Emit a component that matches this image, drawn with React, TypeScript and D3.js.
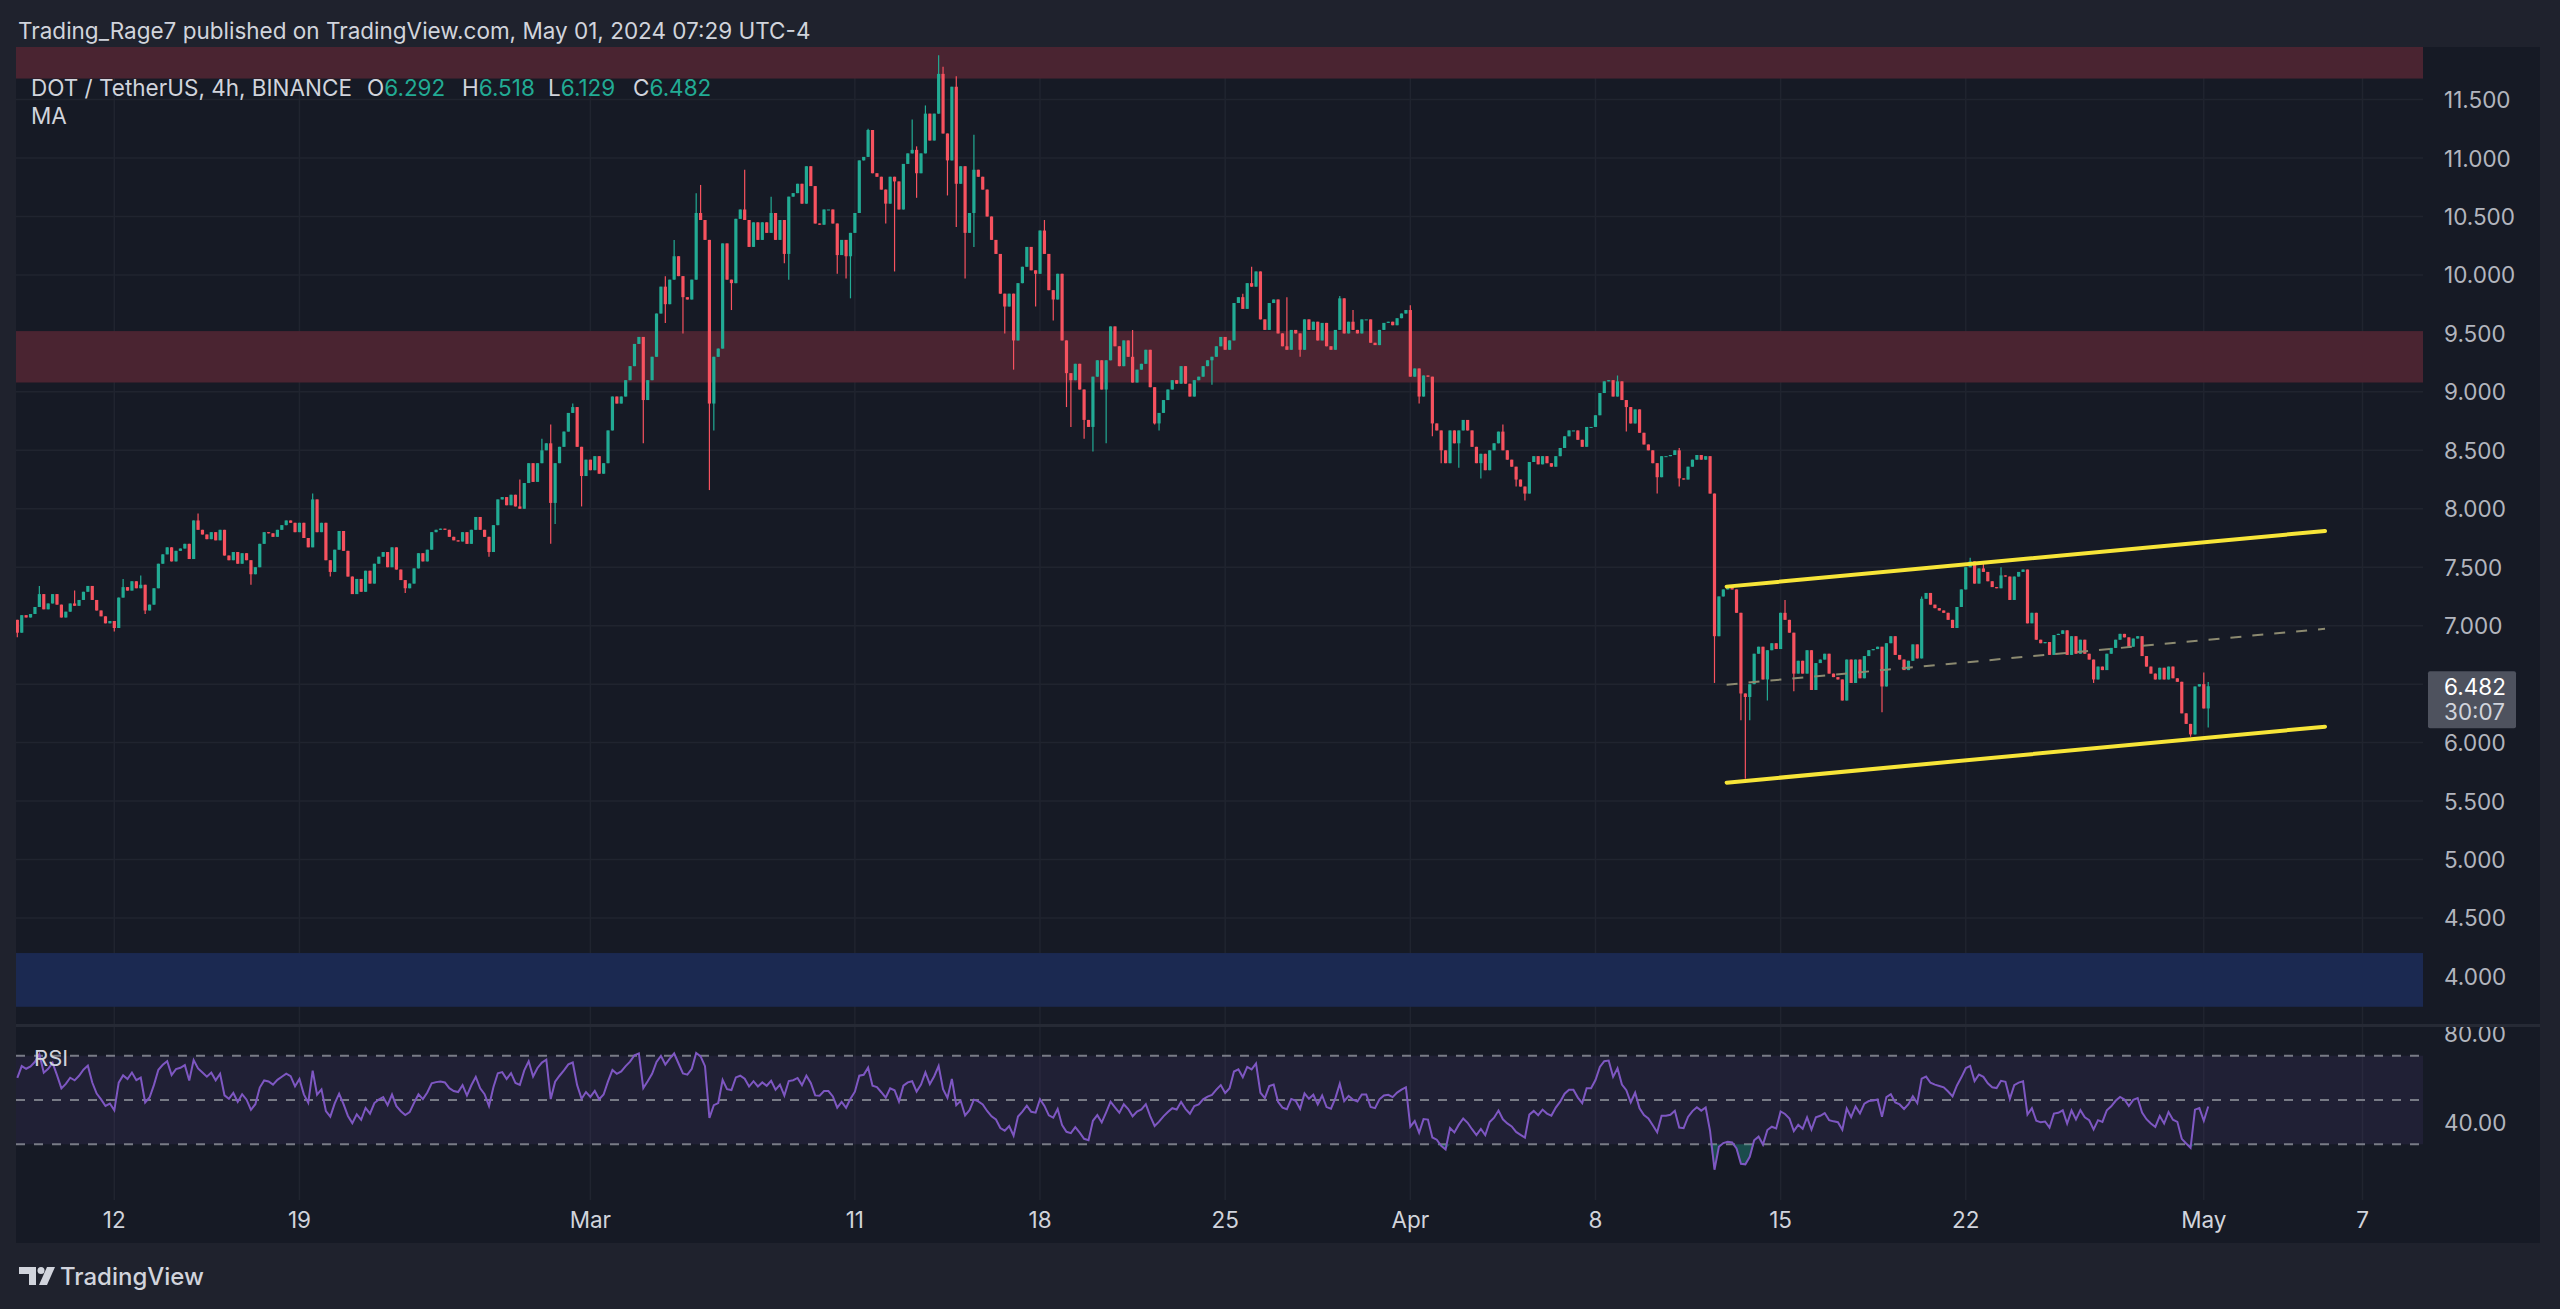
import { useEffect, useRef } from 'react';
import * as d3 from 'd3';

const W = 2560;
const H = 1309;

// 4h closes from Feb 8 08:00 to May 1 04:00 (UTC-4)
const closes: number[] = [
  6.94, 7.09, 7.07, 7.10, 7.16, 7.27, 7.14, 7.19, 7.27, 7.18, 7.07, 7.12, 7.19, 7.17, 7.22, 7.29, 7.34, 7.22, 7.13, 7.08,
  7.02, 7.04, 6.98, 7.24, 7.33, 7.30, 7.38, 7.32, 7.35, 7.13, 7.18, 7.32, 7.53, 7.61, 7.67, 7.55, 7.64, 7.66, 7.70, 7.57,
  7.90, 7.82, 7.78, 7.74, 7.80, 7.73, 7.82, 7.60, 7.56, 7.63, 7.53, 7.62, 7.56, 7.44, 7.50, 7.70, 7.80, 7.79, 7.76, 7.82,
  7.86, 7.90, 7.88, 7.80, 7.88, 7.75, 7.67, 8.08, 7.80, 7.88, 7.56, 7.46, 7.65, 7.81, 7.64, 7.42, 7.27, 7.40, 7.29, 7.47,
  7.36, 7.53, 7.59, 7.63, 7.50, 7.67, 7.48, 7.39, 7.32, 7.36, 7.49, 7.62, 7.55, 7.65, 7.80, 7.82, 7.83, 7.82, 7.76, 7.73,
  7.72, 7.80, 7.70, 7.82, 7.93, 7.82, 7.76, 7.63, 7.86, 8.08, 8.10, 8.03, 8.12, 8.02, 8.00, 8.22, 8.39, 8.23, 8.39, 8.50,
  8.56, 8.05, 8.39, 8.53, 8.66, 8.82, 8.87, 8.53, 8.28, 8.42, 8.33, 8.45, 8.30, 8.39, 8.67, 8.96, 8.90, 8.96, 9.10, 9.22,
  9.41, 9.47, 8.93, 9.10, 9.30, 9.67, 9.90, 9.75, 9.96, 10.16, 9.99, 9.81, 9.79, 9.96, 10.53, 10.47, 10.30, 8.90, 9.30, 9.37,
  10.27, 9.96, 9.93, 10.48, 10.56, 10.47, 10.24, 10.45, 10.30, 10.45, 10.36, 10.53, 10.30, 10.47, 10.18, 10.67, 10.70, 10.78, 10.61, 10.93,
  10.76, 10.44, 10.43, 10.56, 10.56, 10.44, 10.17, 10.30, 10.16, 10.36, 10.53, 10.98, 11.01, 11.24, 10.87, 10.84, 10.73, 10.61, 10.84, 10.80,
  10.56, 10.95, 11.04, 11.07, 10.87, 11.04, 11.38, 11.15, 11.38, 11.72, 11.21, 10.98, 11.61, 10.78, 10.93, 10.36, 10.53, 10.90, 10.84, 10.73,
  10.50, 10.30, 10.18, 9.84, 9.73, 9.84, 9.44, 9.93, 10.07, 10.24, 10.04, 10.01, 10.38, 10.18, 9.87, 9.79, 10.01, 9.44, 9.16, 9.10,
  9.24, 9.02, 8.76, 8.70, 9.13, 9.27, 9.02, 9.27, 9.56, 9.39, 9.22, 9.44, 9.30, 9.08, 9.19, 9.24, 9.36, 9.04, 8.73, 8.82,
  8.93, 9.02, 9.10, 9.07, 9.22, 9.07, 8.96, 9.10, 9.13, 9.22, 9.27, 9.30, 9.39, 9.47, 9.36, 9.44, 9.76, 9.81, 9.71, 9.93,
  9.90, 10.03, 9.62, 9.53, 9.76, 9.79, 9.50, 9.39, 9.36, 9.53, 9.50, 9.36, 9.62, 9.53, 9.60, 9.44, 9.59, 9.39, 9.36, 9.53,
  9.80, 9.50, 9.60, 9.53, 9.50, 9.62, 9.62, 9.42, 9.40, 9.53, 9.59, 9.60, 9.57, 9.63, 9.67, 9.70, 9.13, 9.20, 8.96, 9.14,
  9.13, 8.73, 8.67, 8.50, 8.39, 8.67, 8.56, 8.67, 8.76, 8.67, 8.53, 8.39, 8.47, 8.33, 8.50, 8.56, 8.66, 8.50, 8.42, 8.36,
  8.25, 8.19, 8.13, 8.40, 8.45, 8.38, 8.45, 8.39, 8.36, 8.45, 8.52, 8.62, 8.67, 8.67, 8.59, 8.53, 8.70, 8.70, 8.80, 8.99,
  9.09, 9.10, 8.96, 9.09, 8.93, 8.87, 8.73, 8.85, 8.65, 8.55, 8.50, 8.39, 8.27, 8.45, 8.45, 8.46, 8.50, 8.26, 8.25, 8.36,
  8.42, 8.46, 8.42, 8.45, 8.13, 6.91, 7.25, 7.31, 7.33, 7.31, 7.11, 6.42, 6.39, 6.50, 6.76, 6.82, 6.54, 6.79, 6.85, 6.80,
  7.11, 7.05, 6.94, 6.59, 6.70, 6.59, 6.79, 6.45, 6.68, 6.71, 6.76, 6.59, 6.56, 6.54, 6.36, 6.71, 6.51, 6.71, 6.55, 6.74,
  6.79, 6.80, 6.82, 6.48, 6.85, 6.91, 6.75, 6.71, 6.62, 6.70, 6.84, 6.72, 7.23, 7.28, 7.18, 7.15, 7.13, 7.11, 7.05, 6.98,
  7.16, 7.31, 7.50, 7.55, 7.36, 7.49, 7.46, 7.38, 7.33, 7.32, 7.43, 7.42, 7.22, 7.42, 7.46, 7.48, 7.02, 7.11, 6.88, 6.85,
  6.86, 6.75, 6.92, 6.93, 6.96, 6.75, 6.91, 6.76, 6.88, 6.76, 6.71, 6.54, 6.65, 6.62, 6.76, 6.81, 6.88, 6.93, 6.90, 6.82,
  6.89, 6.91, 6.74, 6.65, 6.59, 6.54, 6.64, 6.54, 6.65, 6.55, 6.52, 6.25, 6.16, 6.07, 6.48, 6.50, 6.292, 6.482,
];
const firstOpen = 7.05;

// visible wick extremes [candle index, price]
const highWicks: [number, number][] = [
  [5, 7.34], [13, 7.3], [24, 7.4], [28, 7.43], [41, 7.96], [67, 8.13], [114, 8.25], [119, 8.6], [121, 8.72],
  [126, 8.9], [147, 9.99], [149, 10.3], [154, 10.7], [155, 10.77], [165, 10.9], [171, 10.67], [193, 11.25],
  [203, 11.33], [204, 11.1], [206, 11.45], [209, 11.88], [210, 11.78], [213, 11.7], [217, 11.2], [233, 10.47],
  [253, 9.53], [278, 9.84], [280, 10.07], [288, 9.81], [300, 9.82], [303, 9.7], [316, 9.74], [337, 8.72],
  [363, 9.14], [377, 8.52], [401, 7.22], [432, 7.25], [443, 7.58], [446, 7.55], [450, 7.5], [496, 6.6], [497, 6.518],
];
const lowWicks: [number, number][] = [
  [0, 6.9], [22, 6.95], [29, 7.1], [53, 7.35], [71, 7.42], [88, 7.28], [107, 7.59], [121, 7.7], [122, 7.87],
  [128, 8.02], [142, 8.56], [147, 9.59], [151, 9.5], [157, 8.16], [158, 8.67], [162, 9.7], [174, 10.1], [175, 9.96],
  [186, 10.01], [188, 9.97], [189, 9.8], [197, 10.44], [199, 10.03], [204, 10.66], [211, 10.68], [213, 10.41],
  [215, 9.97], [217, 10.24], [224, 9.5], [226, 9.19], [231, 9.73], [235, 9.61], [238, 8.87], [239, 8.7], [242, 8.6],
  [244, 8.49], [247, 8.56], [258, 8.72], [259, 8.67], [271, 9.06], [291, 9.3], [318, 8.9], [321, 8.62], [323, 8.39],
  [327, 8.35], [332, 8.26], [340, 8.19], [342, 8.07], [365, 8.66], [372, 8.13], [377, 8.19], [385, 6.51], [391, 6.19],
  [392, 5.69], [393, 6.19], [397, 6.36], [403, 6.44], [423, 6.26], [471, 6.51], [493, 6.05], [497, 6.129],
];

const priceTicks = [11.5, 11, 10.5, 10, 9.5, 9, 8.5, 8, 7.5, 7, 6.5, 6, 5.5, 5, 4.5, 4];
const dateLabels = ['12', '19', 'Mar', '11', '18', '25', 'Apr', '8', '15', '22', 'May', '7'];
const dateDays = ['2024-02-12', '2024-02-19', '2024-03-01', '2024-03-11', '2024-03-18', '2024-03-25',
  '2024-04-01', '2024-04-08', '2024-04-15', '2024-04-22', '2024-05-01', '2024-05-07'];

const supplyZones: [number, number][] = [[11.68, 11.95], [9.08, 9.52]];
const demandZone: [number, number] = [3.74, 4.2];
const channelTimes = ['2024-04-12T23:00:00Z', '2024-05-05T14:00:00Z'];
const channelUpper = [7.334, 7.81];
const channelLower = [5.657, 6.136];

const rsiLevels = [70, 50, 30];
const rsiTicks = [80, 40];
// average gain / loss carried in from before the first visible candle
const rsiSeed = { gain: 0.045, loss: 0.03 };
const lastPrice = 6.482;

const App = () => {
  const svgRef = useRef<SVGSVGElement>(null);

  useEffect(() => {
    const svg = d3.select(svgRef.current);
    svg.selectAll('*').remove();
    const font = 'Inter, "Noto Sans", sans-serif';

    const left = 16, right = 2423;
    const paneTop = 47, paneBottom = 1024;
    const rsiTop = 1027, rsiBottom = 1200;

    const x = d3.scaleUtc()
      .domain([new Date('2024-02-12T00:00:00Z'), new Date('2024-05-07T00:00:00Z')])
      .range([114.3, 2362.5]);
    const y = d3.scaleLinear().domain([4, 11.5]).range([976.4, 99.6]);
    const yr = d3.scaleLinear().domain([30, 70]).range([1144.3, 1055.7]);

    const t0 = Date.UTC(2024, 1, 8, 8);
    const step = 4 * 3600 * 1000;
    const hiMap = new Map(highWicks);
    const loMap = new Map(lowWicks);
    const candles = closes.map((c, i) => {
      const o = i === 0 ? firstOpen : closes[i - 1];
      return {
        t: new Date(t0 + i * step), o, c,
        h: Math.max(o, c, hiMap.get(i) ?? -Infinity),
        l: Math.min(o, c, loMap.get(i) ?? Infinity),
      };
    });

    // RSI 14 (Wilder) on the closes
    const rsi: { t: Date; v: number }[] = [];
    let ag = rsiSeed.gain, al = rsiSeed.loss;
    candles.forEach((d, i) => {
      const ch = d.c - d.o;
      if (i > 0) {
        ag = (ag * 13 + Math.max(ch, 0)) / 14;
        al = (al * 13 + Math.max(-ch, 0)) / 14;
      }
      rsi.push({ t: d.t, v: 100 - 100 / (1 + ag / al) });
    });

    const defs = svg.append('defs');
    defs.append('clipPath').attr('id', 'pane').append('rect')
      .attr('x', left).attr('y', paneTop).attr('width', right - left).attr('height', paneBottom - paneTop);
    defs.append('clipPath').attr('id', 'rsipane').append('rect')
      .attr('x', left).attr('y', rsiTop).attr('width', 2540 - left).attr('height', rsiBottom - rsiTop);

    // backgrounds
    svg.append('rect').attr('width', W).attr('height', H).attr('fill', '#1f222d');
    svg.append('rect').attr('x', left).attr('y', paneTop).attr('width', 2540 - left).attr('height', 1243 - paneTop)
      .attr('fill', '#161a25');

    // grid
    svg.append('g').selectAll('line').data(priceTicks).enter().append('line')
      .attr('x1', left).attr('x2', right).attr('y1', d => y(d)).attr('y2', d => y(d))
      .attr('stroke', '#20242f').attr('stroke-width', 1.5);
    svg.append('g').selectAll('line').data(dateDays).enter().append('line')
      .attr('x1', d => x(new Date(d + 'T00:00:00Z'))).attr('x2', d => x(new Date(d + 'T00:00:00Z')))
      .attr('y1', paneTop).attr('y2', rsiBottom)
      .attr('stroke', '#20242f').attr('stroke-width', 1.5);

    const pane = svg.append('g').attr('clip-path', 'url(#pane)');

    // zones
    pane.selectAll('.supply').data(supplyZones).enter().append('rect')
      .attr('x', left).attr('width', right - left)
      .attr('y', d => y(d[1])).attr('height', d => y(d[0]) - y(d[1]))
      .attr('fill', '#4a2431');
    pane.append('rect')
      .attr('x', left).attr('width', right - left)
      .attr('y', y(demandZone[1])).attr('height', y(demandZone[0]) - y(demandZone[1]))
      .attr('fill', '#1b2951');

    // candles
    const up = '#22ab94', down = '#f7525f';
    const cg = pane.append('g');
    cg.selectAll('line').data(candles).enter().append('line')
      .attr('x1', d => x(d.t)).attr('x2', d => x(d.t))
      .attr('y1', d => y(d.h)).attr('y2', d => y(d.l))
      .attr('stroke', d => (d.c >= d.o ? up : down)).attr('stroke-width', 1.2);
    cg.selectAll('rect').data(candles).enter().append('rect')
      .attr('x', d => x(d.t) - 1.6).attr('width', 3.2)
      .attr('y', d => y(Math.max(d.o, d.c)))
      .attr('height', d => Math.max(1, Math.abs(y(d.o) - y(d.c))))
      .attr('fill', d => (d.c >= d.o ? up : down));

    // channel
    const ct = channelTimes.map(s => new Date(s));
    const mid = channelUpper.map((u, i) => (u + channelLower[i]) / 2);
    const line = d3.line<[Date, number]>().x(d => x(d[0])).y(d => y(d[1]));
    pane.append('path').attr('d', line(ct.map((t, i) => [t, mid[i]] as [Date, number])))
      .attr('stroke', '#8c8a70').attr('stroke-width', 2).attr('stroke-dasharray', '11,11').attr('fill', 'none');
    [channelUpper, channelLower].forEach(arr => {
      pane.append('path').attr('d', line(ct.map((t, i) => [t, arr[i]] as [Date, number])))
        .attr('stroke', '#f7e538').attr('stroke-width', 4).attr('stroke-linecap', 'round').attr('fill', 'none');
    });

    // price axis
    svg.append('g').selectAll('text').data(priceTicks.filter(p => p !== 6.5)).enter().append('text')
      .attr('x', 2444).attr('y', d => y(d)).attr('dominant-baseline', 'central')
      .attr('font-family', font).attr('font-size', 22.5).attr('fill', '#b2b5be')
      .text(d => d.toFixed(3));
    svg.append('rect').attr('x', 2428).attr('y', y(lastPrice) - 15).attr('width', 88).attr('height', 57)
      .attr('rx', 2).attr('fill', '#4e525e');
    svg.append('text').attr('x', 2444).attr('y', y(lastPrice)).attr('dominant-baseline', 'central')
      .attr('font-family', font).attr('font-size', 22.5).attr('fill', '#ffffff').text(lastPrice.toFixed(3));
    svg.append('text').attr('x', 2444).attr('y', y(lastPrice) + 25).attr('dominant-baseline', 'central')
      .attr('font-family', font).attr('font-size', 22.5).attr('fill', '#d1d4dc').text('30:07');

    // pane separator
    svg.append('rect').attr('x', left).attr('y', paneBottom).attr('width', 2540 - left).attr('height', 3)
      .attr('fill', '#262a35');

    // RSI pane
    const rp = svg.append('g').attr('clip-path', 'url(#rsipane)');
    rp.append('rect').attr('x', left).attr('width', right - left)
      .attr('y', yr(70)).attr('height', yr(30) - yr(70)).attr('fill', 'rgba(126,87,194,0.1)');
    rp.selectAll('.lvl').data(rsiLevels).enter().append('line')
      .attr('x1', left).attr('x2', right).attr('y1', d => yr(d)).attr('y2', d => yr(d))
      .attr('stroke', '#787b86').attr('stroke-width', 2).attr('stroke-dasharray', '9,9');
    const below = d3.area<{ t: Date; v: number }>()
      .x(d => x(d.t)).y0(yr(30)).y1(d => yr(Math.min(d.v, 30)));
    rp.append('path').attr('d', below(rsi)).attr('fill', 'rgba(34,171,148,0.35)');
    rp.append('path')
      .attr('d', d3.line<{ t: Date; v: number }>().x(d => x(d.t)).y(d => yr(d.v))(rsi))
      .attr('fill', 'none').attr('stroke', '#7e57c2').attr('stroke-width', 2);
    rp.selectAll('.rt').data(rsiTicks).enter().append('text')
      .attr('x', 2444).attr('y', d => yr(d)).attr('dominant-baseline', 'central')
      .attr('font-family', font).attr('font-size', 22.5).attr('fill', '#b2b5be')
      .text(d => d.toFixed(2));
    svg.append('text').attr('x', 34).attr('y', 1058).attr('dominant-baseline', 'central')
      .attr('font-family', font).attr('font-size', 22).attr('fill', '#d1d4dc').text('RSI');

    // time axis
    svg.append('g').selectAll('text').data(dateDays).enter().append('text')
      .attr('x', d => x(new Date(d + 'T00:00:00Z'))).attr('y', 1219)
      .attr('text-anchor', 'middle').attr('dominant-baseline', 'central')
      .attr('font-family', font).attr('font-size', 22.5).attr('fill', '#d1d4dc')
      .text((_, i) => dateLabels[i]);

    // header and legend
    svg.append('text').attr('x', 18).attr('y', 30).attr('dominant-baseline', 'central')
      .attr('font-family', font).attr('font-size', 22.5).attr('fill', '#d1d4dc')
      .text('Trading_Rage7 published on TradingView.com, May 01, 2024 07:29 UTC-4');
    svg.append('text').attr('x', 31).attr('y', 87).attr('dominant-baseline', 'central')
      .attr('font-family', font).attr('font-size', 22.5).attr('fill', '#d1d4dc')
      .text('DOT / TetherUS, 4h, BINANCE');
    const ohlc: [string, string, number][] = [['O', '6.292', 367], ['H', '6.518', 462], ['L', '6.129', 548], ['C', '6.482', 633]];
    ohlc.forEach(([k, v, px]) => {
      const t = svg.append('text').attr('x', px).attr('y', 87).attr('dominant-baseline', 'central')
        .attr('font-family', font).attr('font-size', 22.5);
      t.append('tspan').attr('fill', '#d1d4dc').text(k);
      t.append('tspan').attr('fill', up).text(v);
    });
    svg.append('text').attr('x', 31).attr('y', 115).attr('dominant-baseline', 'central')
      .attr('font-family', font).attr('font-size', 22.5).attr('fill', '#d1d4dc').text('MA');

    // TradingView logo
    const logo = svg.append('g').attr('fill', '#d1d4dc');
    logo.append('path').attr('d', 'M19 1267 H36 V1285 H29 V1274 H19 Z');
    logo.append('circle').attr('cx', 41).attr('cy', 1270.5).attr('r', 3.5);
    logo.append('path').attr('d', 'M47 1267 H55 L47 1285 H39 Z');
    svg.append('text').attr('x', 60).attr('y', 1276).attr('dominant-baseline', 'central')
      .attr('font-family', font).attr('font-size', 24).attr('font-weight', 500).attr('fill', '#d1d4dc')
      .text('TradingView');
  }, []);

  return (
    <svg ref={svgRef} width={W} height={H} style={{ position: 'absolute', left: 0, top: 0, display: 'block' }} />
  );
};

export default App;
